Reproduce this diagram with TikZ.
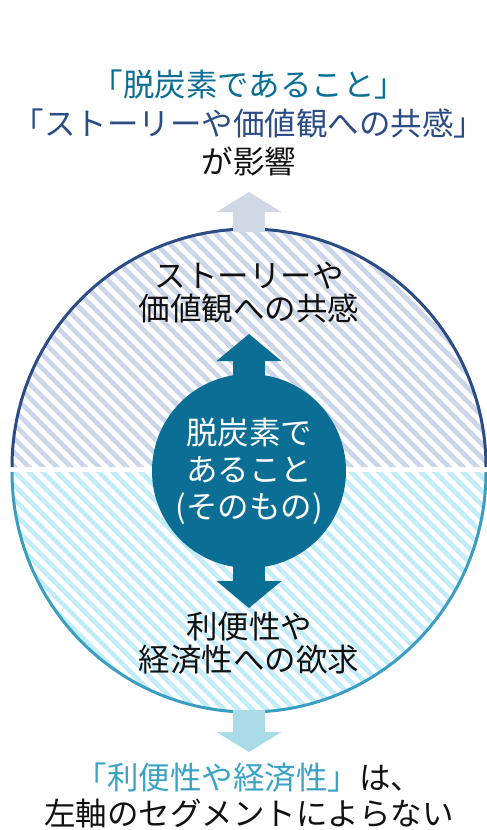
\documentclass[tikz,border=0pt]{standalone}
\usepackage{fontspec}
\setmainfont{Noto Sans CJK JP}
\usetikzlibrary{arrows.meta}

\definecolor{navyrim}{HTML}{2B4C85}
\definecolor{tealrim}{HTML}{3A9EC0}
\definecolor{navyhatch}{HTML}{CDD5E8}
\definecolor{tealhatch}{HTML}{C2ECFA}
\definecolor{coreblue}{HTML}{0A6E95}
\definecolor{paleupper}{HTML}{D0D8E6}
\definecolor{palelower}{HTML}{A9DBE8}
\definecolor{skytext}{HTML}{3AA3C4}
\definecolor{inkblack}{HTML}{111111}

\begin{document}
\begin{tikzpicture}[
  x=1pt, y=-1pt,
  every node/.style={align=center,inner sep=0pt,text=inkblack},
  bigfont/.style={font=\fontsize{31.5}{#1}\selectfont},
  ringtext/.style={bigfont=33},
  coretext/.style={bigfont=37,text=white},
  core/.style={circle,fill=coreblue,minimum size=194pt},
  hatchtop/.style={line width=4.6pt,draw=navyhatch},
  hatchbottom/.style={line width=4.6pt,draw=tealhatch},
  rim/.style={line width=3pt},
  corearrow/.style={line width=32pt,draw=coreblue,
      {Triangle[width=65pt,length=27pt,line width=0pt]}-{Triangle[width=65pt,length=27pt,line width=0pt]}},
  outarrow/.style={line width=32pt,-{Triangle[width=65pt,length=20pt,line width=0pt]}}]
  \useasboundingbox (0,0) rectangle (487,830);

  % Hatched halves of the ring
  \begin{scope}
    \clip (12,467) arc[start angle=180,end angle=360,x radius=237,y radius=238] -- cycle;
    \foreach \i in {-240,-226,...,500}
      \draw[hatchtop] (\i,226) -- ++(245,245);
  \end{scope}
  \begin{scope}
    \clip (12,472) arc[start angle=180,end angle=0,x radius=237,y radius=240] -- cycle;
    \foreach \i in {-240,-226,...,500}
      \draw[hatchbottom] (\i,469) -- ++(248,248);
  \end{scope}
  \draw[rim,navyrim] (12,467) arc[start angle=180,end angle=360,x radius=237,y radius=238];
  \draw[rim,tealrim] (12,472) arc[start angle=180,end angle=0,x radius=237,y radius=240];

  \coordinate (rimtop)    at (249,232);
  \coordinate (uptip)     at (249,192);
  \coordinate (rimbottom) at (249,710);
  \coordinate (downtip)   at (249,752);
  \coordinate (coreup)    at (249,334);
  \coordinate (coredown)  at (249,608);

  % Arrows
  \draw[outarrow,draw=paleupper]  (rimtop)    --  (uptip);
  \draw[outarrow,draw=palelower]  (rimbottom) --  (downtip);
  \draw[corearrow]                (coreup)    --  (coredown);

  % Nodes
  \node[bigfont=38.5] (title) at (249,123) {
            {\color{coreblue}「脱炭素であること」}\\
            {\color{navyrim}「ストーリーや価値観への共感」}\\
            が影響
        };
  \node[ringtext] (upper) at (249,293) {
            ストーリーや\\価値観への共感
        };
  \node[core,coretext] (core) at (249,471) {
            脱炭素で\\あること\\(そのもの)
        };
  \node[ringtext] (lower) at (249,643) {
            利便性や\\経済性への欲求
        };
  \node[bigfont=36] (note) at (249,795) {
            {\color{skytext}「利便性や経済性」}は、\\
            左軸のセグメントによらない
        };
\end{tikzpicture}
\end{document}
